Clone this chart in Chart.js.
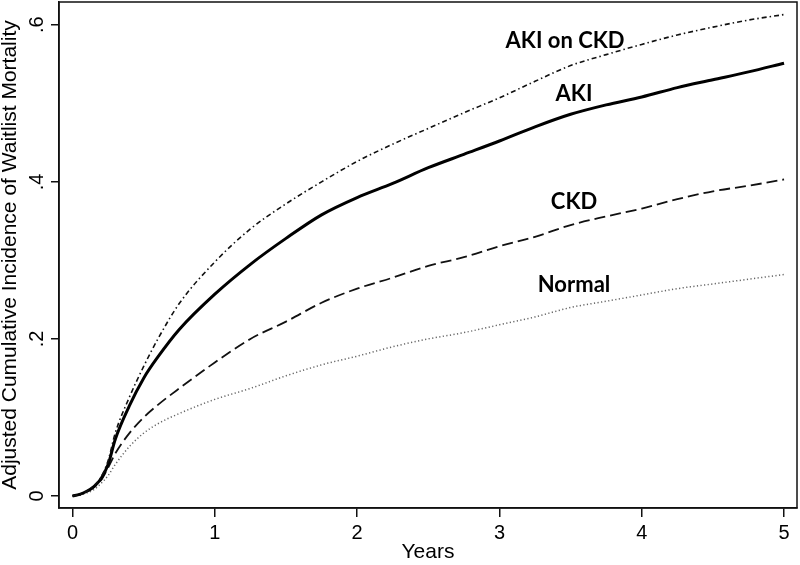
<!DOCTYPE html>
<html>
<head>
<meta charset="utf-8">
<script src="https://cdn.jsdelivr.net/npm/chart.js@4"></script>
<style>
  html, body { margin: 0; padding: 0; background: #fff; }
  #wrap { width: 800px; height: 565px; }
</style>
</head>
<body>
<div id="wrap"><canvas id="c" width="800" height="565"></canvas></div>
<script>
// ---- data ----
const years = [0, 0.05, 0.1, 0.15, 0.2, 0.25, 0.3, 0.4, 0.5, 0.6, 0.75, 1, 1.25, 1.5, 1.75, 2, 2.25, 2.5, 2.75, 3, 3.25, 3.5, 3.75, 4, 4.25, 4.5, 4.75, 5];
const akiOnCkd = [0, 0.002, 0.006, 0.013, 0.024, 0.045, 0.08, 0.126, 0.165, 0.2, 0.245, 0.298, 0.34, 0.372, 0.4, 0.426, 0.448, 0.468, 0.488, 0.507, 0.528, 0.548, 0.562, 0.575, 0.587, 0.597, 0.606, 0.613];
const aki = [0, 0.002, 0.006, 0.012, 0.022, 0.04, 0.072, 0.115, 0.15, 0.177, 0.212, 0.257, 0.295, 0.328, 0.358, 0.38, 0.398, 0.418, 0.435, 0.452, 0.47, 0.486, 0.498, 0.508, 0.52, 0.53, 0.54, 0.551];
const ckd = [0, 0.002, 0.005, 0.011, 0.02, 0.036, 0.054, 0.08, 0.1, 0.116, 0.137, 0.17, 0.2, 0.222, 0.246, 0.264, 0.278, 0.293, 0.304, 0.318, 0.33, 0.345, 0.356, 0.366, 0.378, 0.388, 0.395, 0.403];
const normal = [0, 0.001, 0.004, 0.008, 0.016, 0.026, 0.04, 0.063, 0.08, 0.092, 0.105, 0.123, 0.137, 0.153, 0.167, 0.178, 0.19, 0.2, 0.208, 0.218, 0.228, 0.24, 0.248, 0.256, 0.264, 0.27, 0.276, 0.282];

const xTicks = [0, 1, 2, 3, 4, 5];
const xTickLabels = ['0', '1', '2', '3', '4', '5'];
const yTicks = [0, 0.2, 0.4, 0.6];
const yTickLabels = ['0', '.2', '.4', '.6'];

const seriesNames = ['AKI on CKD', 'AKI', 'CKD', 'Normal'];
const labelX = [3.461, 3.524, 3.524, 3.524];
const labelY = [0.580, 0.512, 0.3745, 0.269];

const xTitle = 'Years';
const yTitle = 'Adjusted Cumulative Incidence of Waitlist Mortality';

// ---- chart ----
const toPts = arr => years.map((x, i) => ({ x: x, y: arr[i] }));
const styles = [
  { borderColor: '#111', borderWidth: 1.6, borderDash: [5, 3, 1.5, 3] },
  { borderColor: '#000', borderWidth: 3, borderDash: [] },
  { borderColor: '#111', borderWidth: 1.8, borderDash: [11, 5] },
  { borderColor: '#666', borderWidth: 1.5, borderDash: [1.2, 2.4] }
];
const allSeries = [akiOnCkd, aki, ckd, normal];

const overlay = {
  id: 'overlay',
  afterDraw(chart) {
    const ctx = chart.ctx;
    const a = chart.chartArea;
    const xs = chart.scales.x, ys = chart.scales.y;
    ctx.save();
    // frame
    ctx.strokeStyle = '#111';
    ctx.lineWidth = 1.5;
    ctx.strokeRect(a.left, a.top, a.right - a.left, a.bottom - a.top);
    // y tick labels, rotated
    ctx.fillStyle = '#000';
    ctx.font = '20px "Liberation Sans", Arial, sans-serif';
    ctx.textAlign = 'center';
    ctx.textBaseline = 'alphabetic';
    yTicks.forEach((v, i) => {
      const py = ys.getPixelForValue(v);
      ctx.save();
      ctx.translate(43, py);
      ctx.rotate(-Math.PI / 2);
      ctx.fillText(yTickLabels[i], 0, 0);
      ctx.restore();
    });
    // series labels
    ctx.font = 'bold 22px Lato, "Open Sans", sans-serif';
    ctx.textAlign = 'center';
    ctx.textBaseline = 'middle';
    seriesNames.forEach((n, i) => {
      ctx.fillText(n, xs.getPixelForValue(labelX[i]), ys.getPixelForValue(labelY[i]));
    });
    ctx.restore();
  }
};

new Chart(document.getElementById('c'), {
  type: 'line',
  data: {
    datasets: allSeries.map((s, i) => ({
      label: seriesNames[i],
      data: toPts(s),
      borderColor: styles[i].borderColor,
      borderWidth: styles[i].borderWidth,
      borderDash: styles[i].borderDash,
      pointRadius: 0,
      fill: false,
      cubicInterpolationMode: 'monotone'
    }))
  },
  options: {
    responsive: false,
    animation: false,
    devicePixelRatio: 1,
    layout: { padding: { top: 2, right: 3, left: 0, bottom: 0 } },
    plugins: { legend: { display: false }, tooltip: { enabled: false } },
    scales: {
      x: {
        type: 'linear',
        min: -0.095,
        max: 5.091,
        afterBuildTicks: s => { s.ticks = xTicks.map(v => ({ value: v })); },
        afterFit: s => { s.height = 57; },
        ticks: {
          callback: (v) => { const i = xTicks.indexOf(v); return i >= 0 ? xTickLabels[i] : ''; },
          color: '#000',
          font: { family: '"Liberation Sans", Arial, sans-serif', size: 20 },
          padding: 4,
          maxRotation: 0
        },
        grid: { display: true, drawOnChartArea: false, drawTicks: true, tickLength: 9, color: '#111', lineWidth: 1.5 },
        border: { display: true, color: '#111', width: 1.5 },
        title: {
          display: true, text: xTitle, color: '#000',
          font: { family: '"Liberation Sans", Arial, sans-serif', size: 21, lineHeight: 1 },
          padding: { top: 0, bottom: 2.5 }
        }
      },
      y: {
        type: 'linear',
        min: -0.0153,
        max: 0.629,
        afterBuildTicks: s => { s.ticks = yTicks.map(v => ({ value: v })); },
        afterFit: s => { s.width = 59; },
        ticks: { display: false },
        grid: { display: true, drawOnChartArea: false, drawTicks: true, tickLength: 8, color: '#111', lineWidth: 1.5 },
        border: { display: true, color: '#111', width: 1.5 },
        title: {
          display: true, text: yTitle, color: '#000',
          font: { family: '"Liberation Sans", Arial, sans-serif', size: 21, lineHeight: 1 },
          padding: { top: 0, bottom: 0 }
        }
      }
    }
  },
  plugins: [overlay]
});
</script>
</body>
</html>
